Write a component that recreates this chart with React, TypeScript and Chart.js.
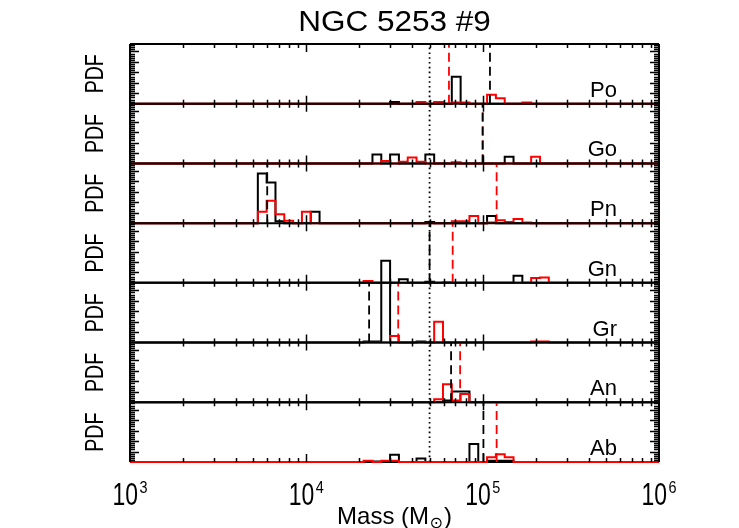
import React, { useEffect, useRef } from "react";
import { Chart, registerables } from "chart.js";
Chart.register(...registerables);

// ---------------- data ----------------
const panelNames = ["Po", "Go", "Pn", "Gn", "Gr", "An", "Ab"];
const titleText = "NGC 5253 #9";
const xTitleMain = "Mass (M";
const xTitleSub = "\u2299";
const yTitle = "PDF";
const decadeExponents = [3, 4, 5, 6];

// histogram bins: [log10(mass) of bin centre, PDF height]
const binWidthDex = 0.05;
const poBlack = [[4.5, 0.03], [4.85, 0.45]];
const poRed = [[4.65, 0.03], [4.75, 0.03], [4.85, 0.02], [4.9, 0.02], [5.05, 0.15], [5.1, 0.09], [5.25, 0.02]];
const goBlack = [[4.4, 0.15], [4.5, 0.15], [4.7, 0.15], [5.15, 0.11]];
const goRed = [[4.45, 0.04], [4.55, 0.03], [4.6, 0.1], [4.65, 0.03], [4.85, 0.02], [5.3, 0.11]];
const pnBlack = [[3.75, 0.83], [3.8, 0.68], [3.85, 0.03], [4.05, 0.19], [4.7, 0.02], [5.05, 0.12]];
const pnRed = [[3.75, 0.19], [3.8, 0.375], [3.85, 0.15], [3.9, 0.04], [4.0, 0.19], [4.85, 0.03], [4.9, 0.03], [4.95, 0.12], [5.05, 0.01], [5.1, 0.05], [5.15, 0.02], [5.2, 0.07], [5.25, 0.01]];
const gnBlack = [[4.45, 0.37], [4.55, 0.06], [4.7, 0.02], [5.2, 0.12]];
const gnRed = [[4.35, 0.03], [4.8, 0.01], [5.3, 0.08], [5.35, 0.09]];
const grBlack = [[4.35, 0.02], [4.4, 0.02], [4.45, 1.0], [4.65, 0.02]];
const grRed = [[4.5, 0.11], [4.75, 0.35], [5.3, 0.02], [5.35, 0.02]];
const anBlack = [[4.8, 0.03], [4.85, 0.18], [4.9, 0.18]];
const anRed = [[4.75, 0.05], [4.8, 0.3], [4.85, 0.03], [4.9, 0.14]];
const abBlack = [[4.4, 0.01], [4.5, 0.12], [4.65, 0.06], [4.95, 0.3], [5.05, 0.02], [5.1, 0.02], [5.15, 0.02]];
const abRed = [[4.35, 0.02], [4.45, 0.02], [4.5, 0.02], [5.05, 0.08], [5.1, 0.13], [5.15, 0.08]];

const blackHists = [poBlack, goBlack, pnBlack, gnBlack, grBlack, anBlack, abBlack];
const redHists = [poRed, goRed, pnRed, gnRed, grRed, anRed, abRed];

// dashed markers (mass in solar masses)
const blackMarkers = [1.1e5, 1.0e5, 6.0e3, 5.0e4, 2.27e4, 6.62e4, 1.01e5];
const redMarkers = [6.44e4, 1.0e5, 1.2e5, 6.76e4, 3.32e4, 7.45e4, 1.2e5];
const trueMass = 5.0e4;

const xMin = 1e3;
const xMax = 1e6;
const yMajorStep = 0.175;
const yMinorStep = 0.035;

// ---------------- helpers ----------------
const BLACK = "#000000";
const RED = "#ff0000";
const FONT = "'Liberation Sans', 'DejaVu Sans', sans-serif";

function stepPoints(bins: number[][]) {
  const pts: { x: number; y: number }[] = [{ x: xMin, y: 0 }];
  let prevHiLog: number | null = null;
  const sorted = [...bins].sort((a, b) => a[0] - b[0]);
  for (const [c, h] of sorted) {
    const loLog = c - binWidthDex / 2;
    const hiLog = c + binWidthDex / 2;
    if (prevHiLog === null || Math.abs(loLog - prevHiLog) > 1e-6) {
      if (prevHiLog !== null) pts.push({ x: Math.pow(10, prevHiLog), y: 0 });
      pts.push({ x: Math.pow(10, loLog), y: 0 });
    }
    pts.push({ x: Math.pow(10, loLog), y: h });
    pts.push({ x: Math.pow(10, hiLog), y: h });
    prevHiLog = hiLog;
  }
  if (prevHiLog !== null) pts.push({ x: Math.pow(10, prevHiLog), y: 0 });
  pts.push({ x: xMax, y: 0 });
  return pts;
}

function drawScaledText(
  ctx: CanvasRenderingContext2D,
  text: string,
  x: number,
  y: number,
  font: string,
  sx: number,
  align: CanvasTextAlign,
  baseline: CanvasTextBaseline = "alphabetic",
  rotate = 0
) {
  ctx.save();
  ctx.translate(x, y);
  if (rotate) ctx.rotate(rotate);
  ctx.scale(sx, 1);
  ctx.font = font;
  ctx.textAlign = align;
  ctx.textBaseline = baseline;
  ctx.fillStyle = BLACK;
  ctx.fillText(text, 0, 0);
  ctx.restore();
}

function panelBounds(chart: any, k: number) {
  const s = chart.scales["y" + k];
  return { top: s.getPixelForValue(1), bottom: s.getPixelForValue(0), scale: s };
}

const framePlugin = {
  id: "idlFrame",
  beforeDatasetsDraw(chart: any) {
    const ctx = chart.ctx as CanvasRenderingContext2D;
    const a = chart.chartArea;
    ctx.save();
    ctx.strokeStyle = BLACK;
    ctx.lineWidth = 2;
    ctx.beginPath();
    ctx.moveTo(a.left, a.bottom);
    ctx.lineTo(a.right, a.bottom);
    ctx.stroke();
    ctx.restore();
  },
  afterDatasetsDraw(chart: any) {
    const ctx = chart.ctx as CanvasRenderingContext2D;
    const a = chart.chartArea;
    const xs = chart.scales.x;
    ctx.save();
    ctx.strokeStyle = BLACK;
    ctx.lineWidth = 2;
    ctx.beginPath();
    for (let k = 0; k < panelNames.length; k++) {
      const { top } = panelBounds(chart, k);
      ctx.moveTo(a.left, top);
      ctx.lineTo(a.right, top);
    }
    ctx.moveTo(a.left, a.top);
    ctx.lineTo(a.left, a.bottom);
    ctx.moveTo(a.right, a.top);
    ctx.lineTo(a.right, a.bottom);
    ctx.stroke();

    ctx.lineWidth = 1.5;
    ctx.beginPath();
    for (let k = 0; k < panelNames.length; k++) {
      const { top, bottom, scale: s } = panelBounds(chart, k);
      for (let e = 3; e <= 5; e++) {
        for (let m = 1; m <= 9; m++) {
          const v = m * Math.pow(10, e);
          if (v <= xMin) continue;
          const px = Math.round(xs.getPixelForValue(v)) + 0.5;
          const len = m === 1 ? 8 : 4;
          ctx.moveTo(px, top);
          ctx.lineTo(px, top + len);
          ctx.moveTo(px, bottom);
          ctx.lineTo(px, bottom - len);
        }
      }
      const n = Math.round(1 / yMinorStep);
      const per = Math.round(yMajorStep / yMinorStep);
      for (let i = 1; i <= n; i++) {
        const v = i * yMinorStep;
        if (v >= 1) break;
        const py = Math.round(s.getPixelForValue(v)) + 0.5;
        const len = i % per === 0 ? 9 : 5;
        ctx.moveTo(a.left, py);
        ctx.lineTo(a.left + len, py);
        ctx.moveTo(a.right, py);
        ctx.lineTo(a.right - len, py);
      }
    }
    ctx.stroke();
    ctx.restore();
  },
  afterDraw(chart: any) {
    const ctx = chart.ctx as CanvasRenderingContext2D;
    const a = chart.chartArea;
    const xs = chart.scales.x;
    // title
    drawScaledText(ctx, titleText, (a.left + a.right) / 2, 31, `30px ${FONT}`, 1.05, "center");
    // tick labels 10^n
    for (const e of decadeExponents) {
      const px = xs.getPixelForValue(Math.pow(10, e));
      const sx = 0.74;
      const supSx = 0.85;
      ctx.save();
      ctx.font = `31px ${FONT}`;
      const w10 = ctx.measureText("10").width * sx;
      ctx.font = `17px ${FONT}`;
      const wSup = ctx.measureText(String(e)).width * supSx;
      ctx.restore();
      const total = w10 + 1.5 + wSup;
      const x0 = px - total / 2;
      drawScaledText(ctx, "10", x0, 505, `31px ${FONT}`, sx, "left");
      drawScaledText(ctx, String(e), x0 + w10 + 1.5, 493, `17px ${FONT}`, supSx, "left");
    }
    // x title with subscript sun symbol
    ctx.save();
    ctx.font = `24px ${FONT}`;
    const wMain = ctx.measureText(xTitleMain).width;
    const wClose = ctx.measureText(")").width;
    ctx.font = `16px ${FONT}`;
    const wSub = ctx.measureText(xTitleSub).width;
    ctx.restore();
    const totalW = wMain + wSub + 1.5 + wClose;
    const tx0 = (a.left + a.right) / 2 - totalW / 2;
    drawScaledText(ctx, xTitleMain, tx0, 524, `24px ${FONT}`, 1, "left");
    drawScaledText(ctx, xTitleSub, tx0 + wMain + 0.5, 528, `16px ${FONT}`, 1, "left");
    drawScaledText(ctx, ")", tx0 + wMain + wSub + 1.5, 524, `24px ${FONT}`, 1, "left");
    // panel labels and PDF
    for (let k = 0; k < panelNames.length; k++) {
      const { top, bottom } = panelBounds(chart, k);
      drawScaledText(ctx, panelNames[k], 617, bottom - 7, `22px ${FONT}`, 1, "right");
      drawScaledText(ctx, yTitle, 96, (top + bottom) / 2, `25px ${FONT}`, 0.78, "center", "middle", -Math.PI / 2);
    }
  },
};

function buildDatasets() {
  const ds: any[] = [];
  const nP = panelNames.length;
  ds.push({
    data: [{ x: trueMass, y: 0 }, { x: trueMass, y: nP }],
    yAxisID: "y" + (nP - 1),
    borderColor: BLACK,
    borderWidth: 1.8,
    borderDash: [1.6, 3.2],
    order: 50,
  });
  for (let k = 0; k < nP; k++) {
    ds.push({
      data: stepPoints(blackHists[k]),
      yAxisID: "y" + k,
      borderColor: BLACK,
      borderWidth: 2,
      order: 40,
    });
    ds.push({
      data: stepPoints(redHists[k]),
      yAxisID: "y" + k,
      borderColor: RED,
      borderWidth: 2,
      order: 30,
    });
    ds.push({
      data: [{ x: redMarkers[k], y: 0 }, { x: redMarkers[k], y: 1 }],
      yAxisID: "y" + k,
      borderColor: RED,
      borderWidth: 1.8,
      borderDash: [9, 5],
      order: 20,
    });
    ds.push({
      data: [{ x: blackMarkers[k], y: 0 }, { x: blackMarkers[k], y: 1 }],
      yAxisID: "y" + k,
      borderColor: BLACK,
      borderWidth: 1.8,
      borderDash: [9, 5],
      order: 10,
    });
  }
  return ds.map((d) => ({
    ...d,
    showLine: true,
    pointRadius: 0,
    pointHoverRadius: 0,
    fill: false,
    tension: 0,
    clip: 4,
  }));
}

function buildScales() {
  const scales: any = {
    x: { type: "logarithmic", min: xMin, max: xMax, display: false },
  };
  const nP = panelNames.length;
  for (let k = 0; k < nP; k++) {
    scales["y" + k] = { type: "linear", min: k - (nP - 1), max: k + 1, display: false };
  }
  return scales;
}

export default function App() {
  const ref = useRef<HTMLCanvasElement>(null);
  useEffect(() => {
    if (!ref.current) return;
    const chart = new Chart(ref.current, {
      type: "scatter",
      data: { datasets: buildDatasets() },
      options: {
        responsive: false,
        devicePixelRatio: 1,
        animation: false,
        events: [],
        layout: { padding: { left: 130, right: 80, top: 44, bottom: 66 } },
        plugins: { legend: { display: false }, tooltip: { enabled: false }, title: { display: false } },
        scales: buildScales(),
      },
      plugins: [framePlugin],
    } as any);
    return () => chart.destroy();
  }, []);
  return (
    <div style={{ position: "fixed", left: 0, top: 0, width: 739, height: 528, background: "#ffffff" }}>
      <canvas ref={ref} width={739} height={528} style={{ display: "block", width: 739, height: 528 }} />
    </div>
  );
}
